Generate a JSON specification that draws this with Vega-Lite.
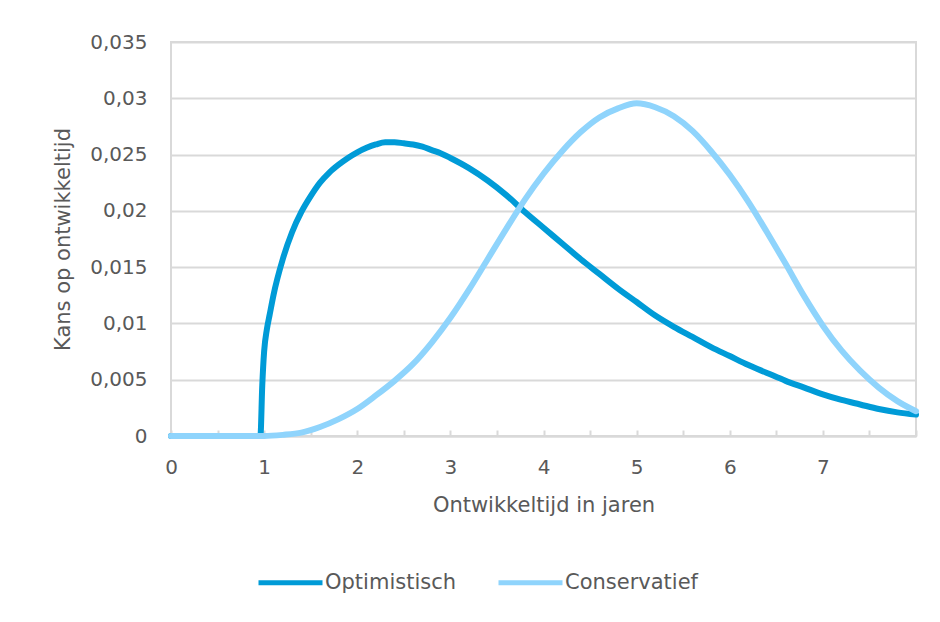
{
  "$schema": "https://vega.github.io/schema/vega-lite/v6.json",
  "width": 745,
  "height": 394,
  "autosize": {"type": "none"},
  "padding": {"left": 171, "top": 42, "right": 24, "bottom": 186},
  "background": "#ffffff",
  "config": {
    "view": {"stroke": "#d9d9d9", "strokeWidth": 2},
    "font": "DejaVu Sans",
    "axis": {"labelFont": "DejaVu Sans", "titleFont": "DejaVu Sans", "labelColor": "#595959", "titleColor": "#595959", "titleFontWeight": "normal"},
    "legend": {"labelFont": "DejaVu Sans", "labelColor": "#595959"}
  },
  "data": {
    "values": [
      {"x": 0, "y": 0, "s": "Optimistisch"},
      {"x": 0.5, "y": 0, "s": "Optimistisch"},
      {"x": 0.93, "y": 0, "s": "Optimistisch"},
      {"x": 0.96, "y": 0, "s": "Optimistisch"},
      {"x": 0.98, "y": 0.0045, "s": "Optimistisch"},
      {"x": 1.0, "y": 0.0075, "s": "Optimistisch"},
      {"x": 1.03, "y": 0.0095, "s": "Optimistisch"},
      {"x": 1.06, "y": 0.0108, "s": "Optimistisch"},
      {"x": 1.1, "y": 0.0125, "s": "Optimistisch"},
      {"x": 1.2, "y": 0.0157, "s": "Optimistisch"},
      {"x": 1.3, "y": 0.0181, "s": "Optimistisch"},
      {"x": 1.4, "y": 0.0199, "s": "Optimistisch"},
      {"x": 1.5, "y": 0.0213, "s": "Optimistisch"},
      {"x": 1.6, "y": 0.0225, "s": "Optimistisch"},
      {"x": 1.7, "y": 0.0234, "s": "Optimistisch"},
      {"x": 1.8, "y": 0.0241, "s": "Optimistisch"},
      {"x": 1.9, "y": 0.0247, "s": "Optimistisch"},
      {"x": 2.0, "y": 0.0252, "s": "Optimistisch"},
      {"x": 2.1, "y": 0.0256, "s": "Optimistisch"},
      {"x": 2.2, "y": 0.0259, "s": "Optimistisch"},
      {"x": 2.3, "y": 0.0261, "s": "Optimistisch"},
      {"x": 2.4, "y": 0.0261, "s": "Optimistisch"},
      {"x": 2.5, "y": 0.026, "s": "Optimistisch"},
      {"x": 2.6, "y": 0.0259, "s": "Optimistisch"},
      {"x": 2.7, "y": 0.0257, "s": "Optimistisch"},
      {"x": 2.8, "y": 0.0254, "s": "Optimistisch"},
      {"x": 2.9, "y": 0.0251, "s": "Optimistisch"},
      {"x": 3.0, "y": 0.0247, "s": "Optimistisch"},
      {"x": 3.2, "y": 0.0238, "s": "Optimistisch"},
      {"x": 3.4, "y": 0.0227, "s": "Optimistisch"},
      {"x": 3.6, "y": 0.0214, "s": "Optimistisch"},
      {"x": 3.8, "y": 0.0199, "s": "Optimistisch"},
      {"x": 4.0, "y": 0.0185, "s": "Optimistisch"},
      {"x": 4.2, "y": 0.0171, "s": "Optimistisch"},
      {"x": 4.4, "y": 0.0157, "s": "Optimistisch"},
      {"x": 4.6, "y": 0.0144, "s": "Optimistisch"},
      {"x": 4.8, "y": 0.0131, "s": "Optimistisch"},
      {"x": 5.0, "y": 0.0119, "s": "Optimistisch"},
      {"x": 5.2, "y": 0.0107, "s": "Optimistisch"},
      {"x": 5.4, "y": 0.0097, "s": "Optimistisch"},
      {"x": 5.6, "y": 0.0088, "s": "Optimistisch"},
      {"x": 5.8, "y": 0.0079, "s": "Optimistisch"},
      {"x": 6.0, "y": 0.0071, "s": "Optimistisch"},
      {"x": 6.2, "y": 0.0063, "s": "Optimistisch"},
      {"x": 6.4, "y": 0.0056, "s": "Optimistisch"},
      {"x": 6.6, "y": 0.0049, "s": "Optimistisch"},
      {"x": 6.8, "y": 0.0043, "s": "Optimistisch"},
      {"x": 7.0, "y": 0.0037, "s": "Optimistisch"},
      {"x": 7.2, "y": 0.0032, "s": "Optimistisch"},
      {"x": 7.4, "y": 0.0028, "s": "Optimistisch"},
      {"x": 7.6, "y": 0.0024, "s": "Optimistisch"},
      {"x": 7.8, "y": 0.0021, "s": "Optimistisch"},
      {"x": 8.0, "y": 0.0019, "s": "Optimistisch"},
      {"x": 0, "y": 0, "s": "Conservatief"},
      {"x": 0.5, "y": 0, "s": "Conservatief"},
      {"x": 1.0, "y": 0, "s": "Conservatief"},
      {"x": 1.2, "y": 0.0001, "s": "Conservatief"},
      {"x": 1.4, "y": 0.0003, "s": "Conservatief"},
      {"x": 1.6, "y": 0.0008, "s": "Conservatief"},
      {"x": 1.8, "y": 0.0015, "s": "Conservatief"},
      {"x": 2.0, "y": 0.0024, "s": "Conservatief"},
      {"x": 2.2, "y": 0.0036, "s": "Conservatief"},
      {"x": 2.4, "y": 0.0049, "s": "Conservatief"},
      {"x": 2.6, "y": 0.0064, "s": "Conservatief"},
      {"x": 2.8, "y": 0.0083, "s": "Conservatief"},
      {"x": 3.0, "y": 0.0105, "s": "Conservatief"},
      {"x": 3.2, "y": 0.013, "s": "Conservatief"},
      {"x": 3.4, "y": 0.0157, "s": "Conservatief"},
      {"x": 3.6, "y": 0.0184, "s": "Conservatief"},
      {"x": 3.8, "y": 0.021, "s": "Conservatief"},
      {"x": 4.0, "y": 0.0233, "s": "Conservatief"},
      {"x": 4.2, "y": 0.0253, "s": "Conservatief"},
      {"x": 4.4, "y": 0.027, "s": "Conservatief"},
      {"x": 4.6, "y": 0.0283, "s": "Conservatief"},
      {"x": 4.8, "y": 0.0291, "s": "Conservatief"},
      {"x": 5.0, "y": 0.02955, "s": "Conservatief"},
      {"x": 5.2, "y": 0.0292, "s": "Conservatief"},
      {"x": 5.4, "y": 0.0284, "s": "Conservatief"},
      {"x": 5.6, "y": 0.0271, "s": "Conservatief"},
      {"x": 5.8, "y": 0.0253, "s": "Conservatief"},
      {"x": 6.0, "y": 0.0232, "s": "Conservatief"},
      {"x": 6.2, "y": 0.0208, "s": "Conservatief"},
      {"x": 6.4, "y": 0.0181, "s": "Conservatief"},
      {"x": 6.6, "y": 0.0153, "s": "Conservatief"},
      {"x": 6.8, "y": 0.0124, "s": "Conservatief"},
      {"x": 7.0, "y": 0.0098, "s": "Conservatief"},
      {"x": 7.2, "y": 0.0076, "s": "Conservatief"},
      {"x": 7.4, "y": 0.0058, "s": "Conservatief"},
      {"x": 7.6, "y": 0.0043, "s": "Conservatief"},
      {"x": 7.8, "y": 0.0031, "s": "Conservatief"},
      {"x": 8.0, "y": 0.0022, "s": "Conservatief"}
    ]
  },
  "mark": {"type": "line", "interpolate": "monotone", "strokeWidth": 6, "strokeCap": "round", "strokeJoin": "round"},
  "encoding": {
    "x": {
      "field": "x", "type": "quantitative",
      "scale": {"domain": [0, 8], "nice": false, "zero": false},
      "axis": {
        "title": "Ontwikkeltijd in jaren",
        "titleFontSize": 21,
        "titlePadding": 17,
        "values": [0, 0.5, 1, 1.5, 2, 2.5, 3, 3.5, 4, 4.5, 5, 5.5, 6, 6.5, 7, 7.5, 8],
        "labelExpr": "datum.value % 1 == 0 && datum.value < 8 ? format(datum.value, 'd') : ''",
        "labelFontSize": 20,
        "labelDx": 5,
        "labelPadding": 27,
        "tickSize": -6,
        "tickColor": "#d9d9d9",
        "tickWidth": 2,
        "domainColor": "#d9d9d9",
        "domainWidth": 2,
        "grid": false,
        "labelFlush": false
      }
    },
    "y": {
      "field": "y", "type": "quantitative",
      "scale": {"domain": [0, 0.035], "nice": false},
      "axis": {
        "title": "Kans op ontwikkeltijd",
        "titleFontSize": 21,
        "titlePadding": 16,
        "values": [0, 0.005, 0.01, 0.015, 0.02, 0.025, 0.03, 0.035],
        "labelExpr": "replace(format(datum.value, ''), '.', ',')",
        "labelFontSize": 20,
        "labelPadding": 24,
        "ticks": false,
        "domain": false,
        "grid": true,
        "gridColor": "#d9d9d9",
        "gridWidth": 2
      }
    },
    "color": {
      "field": "s", "type": "nominal",
      "scale": {"domain": ["Optimistisch", "Conservatief"], "range": ["#009BD7", "#8FD4FC"]},
      "legend": {
        "title": null,
        "orient": "none",
        "legendX": 85,
        "legendY": 506,
        "direction": "horizontal",
        "symbolType": "stroke",
        "symbolSize": 4096,
        "symbolStrokeWidth": 5,
        "labelFontSize": 21,
        "labelOffset": 0,
        "columnPadding": 31
      }
    }
  }
}
